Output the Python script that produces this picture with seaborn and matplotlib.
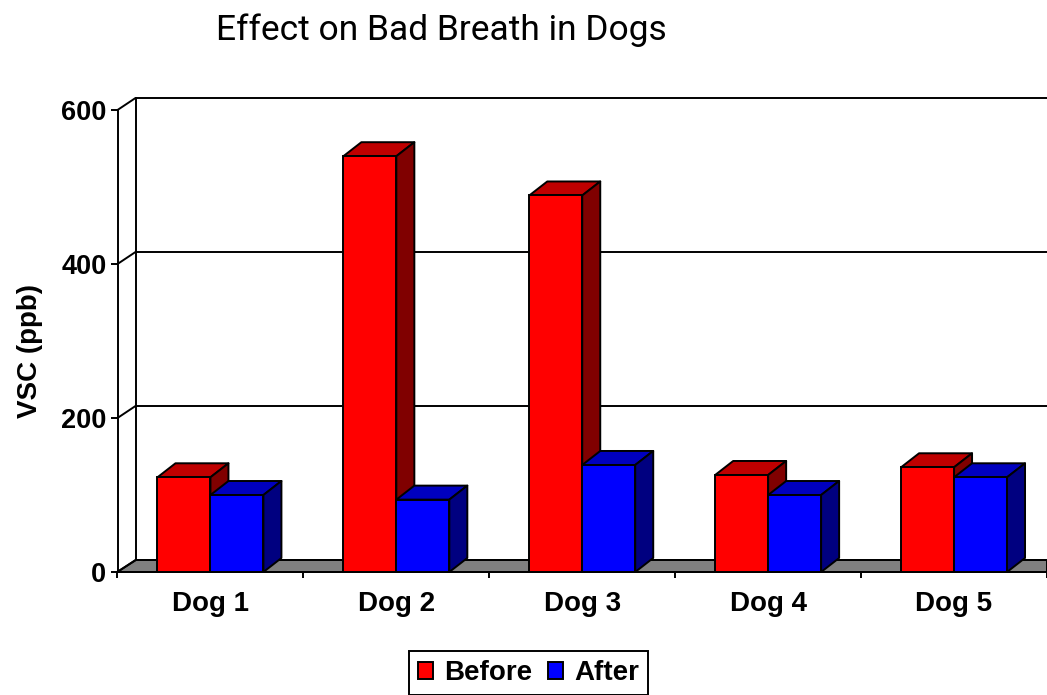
import matplotlib
matplotlib.use("Agg")
import matplotlib.pyplot as plt
import numpy as np
import pandas as pd
import seaborn as sns
from matplotlib.patches import Polygon
from matplotlib.transforms import IdentityTransform

# --- Data ---
dogs = ["Dog 1", "Dog 2", "Dog 3", "Dog 4", "Dog 5"]
before = [123, 540, 489, 126, 136]
after = [100, 94, 139, 100, 123]
y_ticks = [0, 200, 400, 600]

# --- Style ---
W, H = 1047, 695
colors = {"Before": "#FF0000", "After": "#0000FF"}
tops = {"Before": "#BF0000", "After": "#0000BF"}
sides = {"Before": "#800000", "After": "#000080"}
lw = 1.4
bar_dx, bar_dy = 18, 14   # depth of the bars, pixels
wall_dx, wall_dy = 18, 12  # depth of the back wall, pixels

sns.set_style("white")
plt.rcParams["font.family"] = ["Liberation Sans", "DejaVu Sans"]
plt.rcParams["text.color"] = "black"

df = pd.DataFrame({
    "Dog": dogs * 2,
    "VSC": before + after,
    "Series": ["Before"] * len(dogs) + ["After"] * len(dogs),
})

fig = plt.figure(figsize=(W / 100, H / 100), dpi=100)
ax = fig.add_axes([117.5 / W, (H - 572) / H, (W - 117.5) / W, 462 / H])

sns.barplot(data=df, x="Dog", y="VSC", hue="Series", palette=colors, width=0.57,
            gap=0, saturation=1, edgecolor="black", linewidth=lw, ax=ax, zorder=5)

ax.set_xlim(-0.5, 4.5)
ax.set_ylim(0, 600)
ax.patch.set_alpha(0)
fig.canvas.draw()


def add_poly(points, face, z, edge="black"):
    ax.add_patch(Polygon(points, closed=True, facecolor=face, edgecolor=edge, linewidth=lw,
                         joinstyle="round", transform=IdentityTransform(), clip_on=False, zorder=z))


def px(x, y):
    return ax.transData.transform((x, y))


# --- Back wall and floor ---
x0, y0 = px(-0.5, 0)
x1, _ = px(4.5, 0)
add_poly([(x0, y0), (x1, y0), (x1, y0 + wall_dy), (x0 + wall_dx, y0 + wall_dy)], "#808080", 1)
for v in y_ticks:
    _, yv = px(-0.5, v)
    ax.plot([x0, x0 + wall_dx, x1], [yv, yv + wall_dy, yv + wall_dy], color="black", lw=lw,
            transform=IdentityTransform(), clip_on=False, zorder=2)
_, ytop = px(-0.5, 600)
ax.plot([x0 + wall_dx, x0 + wall_dx], [y0 + wall_dy, ytop + wall_dy], color="black", lw=lw,
        transform=IdentityTransform(), clip_on=False, zorder=2)

# --- 3D faces of the bars ---
series = ["Before", "After"]
for i in range(len(dogs)):
    for j, name in enumerate(series):
        bar = ax.containers[j].patches[i]
        z = 5 + i * 2 + j * 0.5
        xa, ya = ax.transData.transform((bar.get_x(), 0))
        xb, yb = ax.transData.transform((bar.get_x() + bar.get_width(), bar.get_height()))
        add_poly([(xa, yb), (xb, yb), (xb + bar_dx, yb + bar_dy), (xa + bar_dx, yb + bar_dy)], tops[name], z)
        add_poly([(xb, ya), (xb, yb), (xb + bar_dx, yb + bar_dy), (xb + bar_dx, ya + bar_dy)], sides[name], z)
        bar.set_zorder(z + 0.1)
        bar.set_clip_on(False)

# --- Axes ---
for s in ["top", "right"]:
    ax.spines[s].set_visible(False)
for s in ["left", "bottom"]:
    ax.spines[s].set_linewidth(lw)
    ax.spines[s].set_color("black")
    ax.spines[s].set_zorder(3)

ax.set_yticks(y_ticks)
ax.set_xticks(np.arange(-0.5, 5), minor=True)
ax.tick_params(axis="x", which="major", length=0, pad=13.5, labelsize=20)
ax.tick_params(axis="x", which="minor", length=4.5, width=lw, color="black", bottom=True)
ax.tick_params(axis="y", length=5, width=lw, color="black", left=True, pad=3, labelsize=19.5)
for lab in ax.get_xticklabels() + ax.get_yticklabels():
    lab.set_fontweight("bold")
    lab.set_color("black")

ax.set_xlabel("")
ax.set_ylabel("")
fig.text(30 / W, 1 - 351 / H, "VSC (ppb)", rotation=90, ha="center", va="center",
         fontsize=20, fontweight="bold", color="black")
fig.text(441 / W, 1 - 30 / H, "Effect on Bad Breath in Dogs", ha="center", va="center",
         fontsize=25.5, color="black", family=["Roboto", "Liberation Sans"])

# --- Legend ---
handles, labels = ax.get_legend_handles_labels()
leg = ax.legend(handles, labels, loc="center", bbox_to_anchor=(528.5 / W, 1 - 673 / H),
                bbox_transform=fig.transFigure, ncol=2, frameon=True, fancybox=False,
                edgecolor="black", framealpha=1, handlelength=0.55, handleheight=0.55,
                handletextpad=0.4, columnspacing=0.55, borderpad=0.32, borderaxespad=0,
                labelcolor="black", prop={"size": 20, "weight": "bold"})
leg.get_frame().set_linewidth(lw)
leg.set_zorder(30)

fig.savefig("out.png", dpi=100)
